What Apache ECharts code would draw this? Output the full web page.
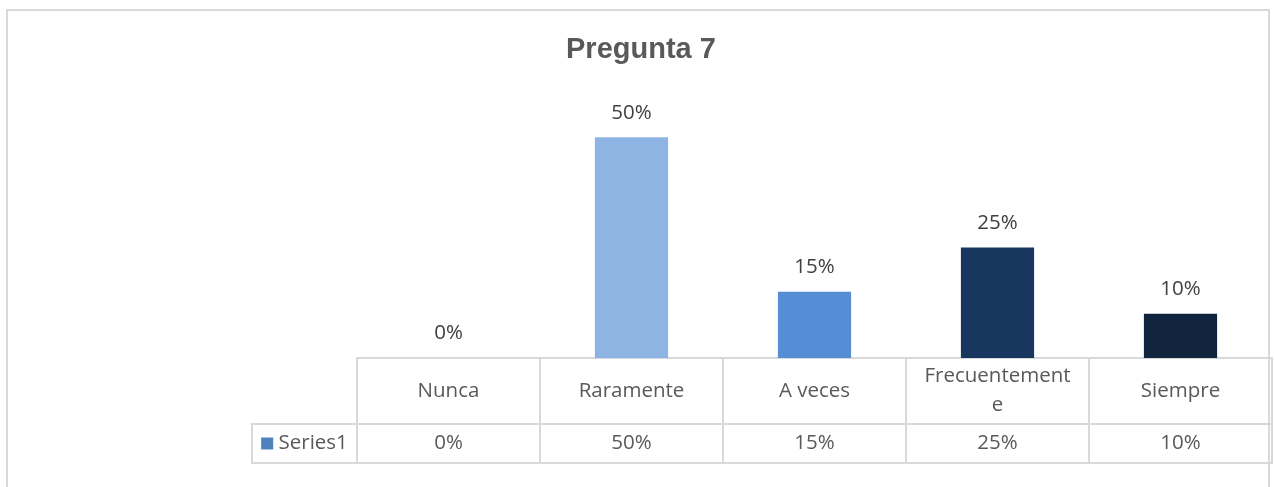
<!DOCTYPE html>
<html>
<head>
<meta charset="utf-8">
<script src="https://cdn.jsdelivr.net/npm/echarts@6/dist/echarts.min.js"></script>
<style>
    html, body { margin: 0; padding: 0; background: #fff; }
    #frame {
        position: absolute; left: 6px; top: 9px; width: 1264px; height: 500px;
        border: 2px solid #d9d9d9; box-sizing: border-box;
    }
    #chart { position: absolute; left: 0; top: 0; width: 1274px; height: 487px; }
</style>
</head>
<body>
<div id="frame"></div>
<div id="chart"></div>
<script>
var titleText = "Pregunta 7";
var seriesName = "Series1";
var categories = ["Nunca", "Raramente", "A veces", "Frecuentemente", "Siempre"];
var values = [0, 0.50, 0.15, 0.25, 0.10];
var barColors = ["#c6d9f1", "#8eb4e3", "#558ed5", "#17375e", "#10243e"];

function pct(v) {
    return Math.round(v * 100) + "%"
}

var valueLabels = values.map(pct);
var lineColor = "#d9d9d9";
var textColor = "#595959";
var font = "'Open Sans', sans-serif";
var fontSize = 20.5;

var myChart = echarts.init(document.getElementById("chart"));

var option = {
    title: {
        text: titleText,
        left: 561,
        top: 30,
        textStyle: {
            fontFamily: "'Liberation Sans', Arial, sans-serif",
            fontSize: 29,
            fontWeight: "bold",
            color: textColor
        }
    },
    grid: [
        // bars
        { left: 357, right: 2, top: 93, height: 265 },
        // table header row
        { left: 357, right: 2, top: 358, height: 66, show: true, borderColor: lineColor, borderWidth: 2 },
        // table value row
        { left: 357, right: 2, top: 424, height: 39, show: true, borderColor: lineColor, borderWidth: 2 },
        // series name cell
        { left: 252, width: 105, top: 424, height: 39, show: true, borderColor: lineColor, borderWidth: 2 }
    ],
    xAxis: [
        {
            gridIndex: 0, type: "category", data: categories,
            axisLine: { show: false }, axisTick: { show: false }, axisLabel: { show: false }
        },
        {
            gridIndex: 1, type: "category", data: categories,
            axisLine: { show: false }, axisTick: { show: false },
            splitLine: { show: true, lineStyle: { color: lineColor, width: 2 } },
            axisLabel: {
                inside: true, margin: 33, verticalAlign: "middle", interval: 0,
                width: 152, overflow: "breakAll", lineHeight: 29,
                fontFamily: font, fontSize: fontSize, color: textColor
            }
        },
        {
            gridIndex: 2, type: "category", data: valueLabels,
            axisLine: { show: false }, axisTick: { show: false },
            splitLine: { show: true, lineStyle: { color: lineColor, width: 2 } },
            axisLabel: {
                inside: true, margin: 19.5, verticalAlign: "middle", interval: 0,
                fontFamily: font, fontSize: fontSize, color: textColor
            }
        },
        {
            gridIndex: 3, type: "category", data: [seriesName],
            axisLine: { show: false }, axisTick: { show: false },
            axisLabel: {
                inside: true, margin: 19.5, verticalAlign: "middle",
                formatter: function(v) { return "{sq|}{t| " + v + "}" },
                rich: {
                    sq: { width: 12, height: 12, backgroundColor: "#4f81bd" },
                    t: { fontFamily: font, fontSize: fontSize, color: textColor }
                }
            }
        }
    ],
    yAxis: [
        { gridIndex: 0, type: "value", min: 0, max: 0.6, show: false },
        { gridIndex: 1, type: "value", show: false },
        { gridIndex: 2, type: "value", show: false },
        { gridIndex: 3, type: "value", show: false }
    ],
    series: [{
        name: seriesName,
        type: "bar",
        xAxisIndex: 0,
        yAxisIndex: 0,
        barWidth: "40%",
        data: values.map(function(v, i) {
            return { value: v, itemStyle: { color: barColors[i] } }
        }),
        label: {
            show: true,
            position: "top",
            distance: 14,
            formatter: function(p) { return pct(p.value) },
            fontFamily: font,
            fontSize: fontSize,
            color: "#404040"
        }
    }]
};

myChart.setOption(option);
</script>
</body>
</html>
